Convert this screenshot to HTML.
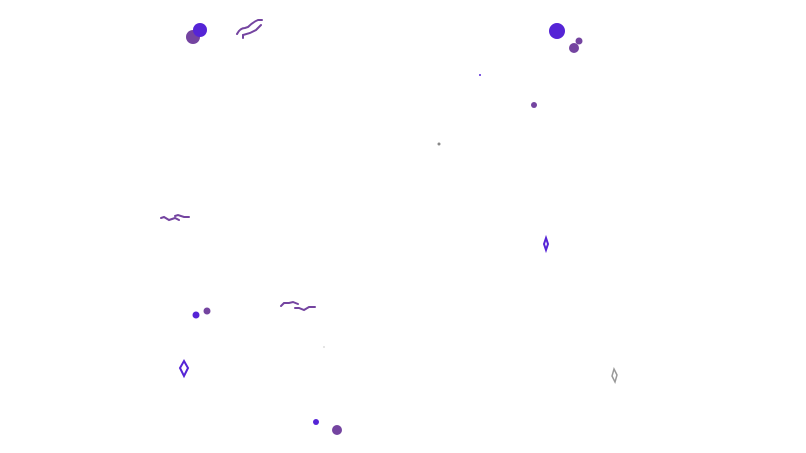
<!DOCTYPE html>
<html><head><meta charset="utf-8"><style>html,body{margin:0;padding:0;background:#fff}svg{display:block}</style></head>
<body>
<svg width="806" height="453" viewBox="0 0 806 453" xmlns="http://www.w3.org/2000/svg">
<g fill="none" stroke="#7444a0" stroke-width="2" stroke-linecap="round">
<path d="M237 34 Q240 28 245 28 L248 27 Q253 22 258 20 L262 20"/>
<path d="M243 38 L243 35 L250 33 L256 30 L261 25"/>
<path d="M161 218 L164 217 L169 220 L175 218 L179 220"/>
<path d="M175 216 L178 215 L184 217 L189 217"/>
<path d="M281 306 L284 303 L289 303 L293 302 L298 304"/>
<path d="M295 308 L299 308 L304 310 L309 307 L315 307"/>
</g>
<circle cx="193" cy="37" r="7" fill="#7444a0"/>
<circle cx="200" cy="30" r="7" fill="#5524d6"/>
<circle cx="557" cy="31" r="8" fill="#5524d6"/>
<circle cx="574" cy="48" r="5" fill="#7444a0"/>
<circle cx="579" cy="41" r="3.5" fill="#7444a0"/>
<circle cx="534" cy="105" r="3" fill="#7444a0"/>
<circle cx="480" cy="75" r="1" fill="#5524d6"/>
<circle cx="439" cy="144" r="1.5" fill="#888"/>
<circle cx="196" cy="315" r="3.5" fill="#5524d6"/>
<circle cx="207" cy="311" r="3.5" fill="#7444a0"/>
<circle cx="324" cy="347" r="1" fill="#ddd"/>
<circle cx="316" cy="422" r="3" fill="#5524d6"/>
<circle cx="337" cy="430" r="5" fill="#7444a0"/>
<path d="M184 361 L188 368 L184 376 L180 368 Z" fill="none" stroke="#5524d6" stroke-width="2"/>
<path d="M546 238 L548 244 L546 250 L544 244 Z" fill="none" stroke="#5524d6" stroke-width="2"/>
<path d="M614 369 L617 375 L615 382 L612 376 Z" fill="none" stroke="#999" stroke-width="1.5"/>
</svg>
</body></html>
